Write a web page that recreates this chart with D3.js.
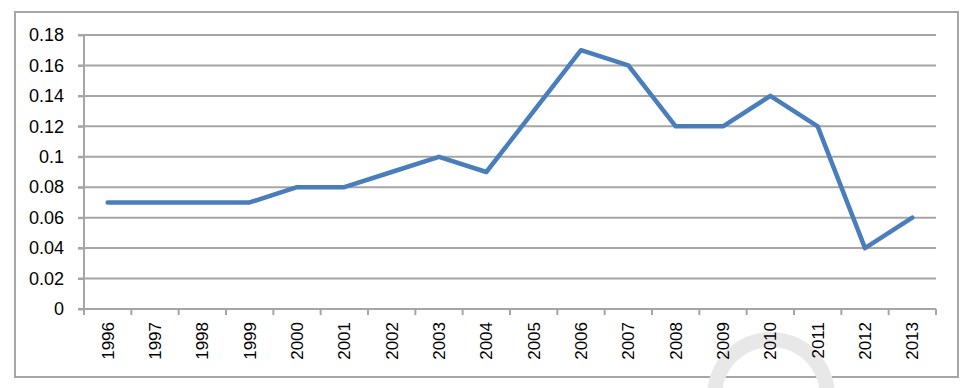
<!DOCTYPE html>
<html><head><meta charset="utf-8">
<script src="https://cdn.jsdelivr.net/npm/d3@7"></script>
<style>html,body{margin:0;padding:0;background:#fff;}svg{display:block;}</style>
</head><body>
<svg id="chart" width="976" height="388"></svg>
<script>
const years = ["1996","1997","1998","1999","2000","2001","2002","2003","2004","2005","2006","2007","2008","2009","2010","2011","2012","2013"];
const values = [0.07,0.07,0.07,0.07,0.08,0.08,0.09,0.10,0.09,0.13,0.17,0.16,0.12,0.12,0.14,0.12,0.04,0.06];
const yTicks = [0,0.02,0.04,0.06,0.08,0.1,0.12,0.14,0.16,0.18];
const yTickLabels = ["0","0.02","0.04","0.06","0.08","0.1","0.12","0.14","0.16","0.18"];

const svg = d3.select("#chart");
const font = "'Liberation Sans', Arial, sans-serif";
const plot = {left:84, right:936, top:35, bottom:309};

// frame
svg.append("rect").attr("x",15).attr("y",12).attr("width",943).attr("height",365)
  .attr("fill","#fff").attr("stroke","#a6a6a6").attr("stroke-width",2);

// faint watermark arc (image decoration)
svg.append("path")
  .attr("d", d3.arc()({innerRadius:49, outerRadius:64, startAngle:-Math.PI*0.62, endAngle:Math.PI*0.6}))
  .attr("transform","translate(771,396)")
  .attr("fill","#e8e8e8");

const x = d3.scaleBand().domain(years).range([plot.left, plot.right]).padding(0);
const y = d3.scaleLinear().domain([0,0.18]).range([plot.bottom, plot.top]);

// gridlines
svg.append("g").selectAll("line").data(yTicks.slice(1)).join("line")
  .attr("x1",plot.left-6).attr("x2",plot.right)
  .attr("y1",d=>y(d)).attr("y2",d=>y(d))
  .attr("stroke","#a6a6a6").attr("stroke-width",2);

// y axis
const yAxis = d3.axisLeft(y).tickValues(yTicks).tickSize(6).tickPadding(14)
  .tickFormat((d,i)=>yTickLabels[i]);
const gy = svg.append("g").attr("transform",`translate(${plot.left},0)`).call(yAxis)
  .attr("font-size",null).attr("font-family",null);
gy.select(".domain").attr("stroke","#a6a6a6").attr("stroke-width",2).attr("d",`M-6,${plot.bottom}H0V${plot.top}`);
gy.selectAll(".tick line").attr("stroke","#a6a6a6").attr("stroke-width",2);
gy.selectAll(".tick text").style("font-family",font).style("font-size","18px").attr("fill","#000");

// x axis
const xAxis = d3.axisBottom(x).tickSize(0).tickPadding(0);
const gx = svg.append("g").attr("transform",`translate(0,${plot.bottom})`).call(xAxis)
  .attr("font-size",null).attr("font-family",null);
gx.select(".domain").attr("stroke","#a6a6a6").attr("stroke-width",2).attr("d",`M${plot.left},0H${plot.right}`);
gx.selectAll(".tick text")
  .style("font-family",font).style("font-size","17px").attr("fill","#000")
  .attr("transform","rotate(-90)")
  .attr("text-anchor","end").attr("dy","0.35em").attr("x",-13).attr("y",0);
// boundary ticks
const bounds = years.map(d=>x(d)).concat([plot.right]);
svg.append("g").selectAll("line").data(bounds).join("line")
  .attr("x1",d=>d).attr("x2",d=>d).attr("y1",plot.bottom).attr("y2",plot.bottom+6)
  .attr("stroke","#a6a6a6").attr("stroke-width",2);

// line
const line = d3.line().x((d,i)=>x(years[i])+x.bandwidth()/2).y(d=>y(d));
svg.append("path").datum(values).attr("d",line)
  .attr("fill","none").attr("stroke","#4a7ebb").attr("stroke-width",4.5)
  .attr("stroke-linejoin","round").attr("stroke-linecap","round");
</script>
</body></html>
